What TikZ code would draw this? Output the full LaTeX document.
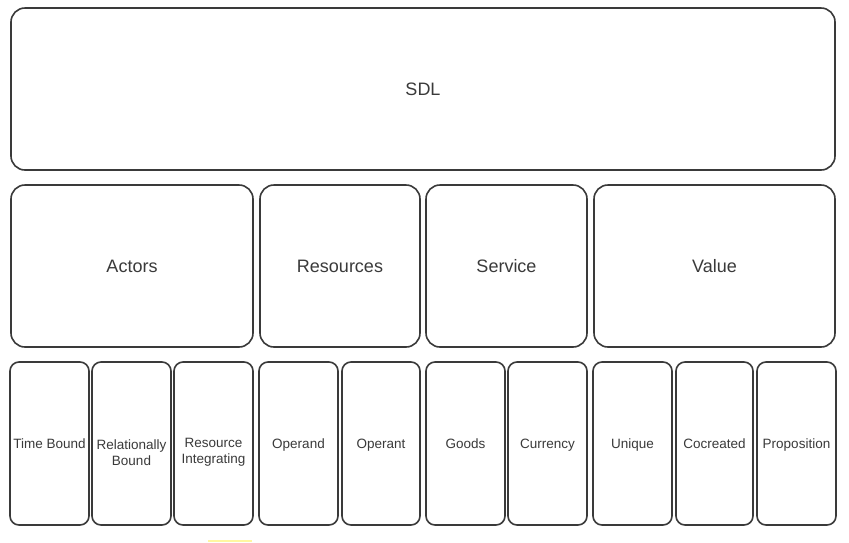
\documentclass[tikz,border=0pt]{standalone}
\usepackage{fontspec}
\setmainfont{Liberation Sans}
\definecolor{edge}{HTML}{3A3A3A}
\definecolor{ink}{HTML}{3A3A3A}
\definecolor{hilite}{HTML}{FFF7A0}
\begin{document}
\begin{tikzpicture}[x=1pt,y=-1pt,
  box/.style={draw=edge, line width=1.6pt, rounded corners=14pt, fill=white,
    inner sep=0pt, text=ink, text height=13pt, text depth=0pt,
    font=\fontsize{18}{21}\selectfont},
  leaf/.style={draw=edge, line width=1.6pt, rounded corners=9pt, fill=white,
    inner sep=0pt, minimum width=79pt, minimum height=163pt, text=ink,
    text height=10pt, text depth=1pt, font=\fontsize{13.5}{16}\selectfont},
  leaftext/.style={inner sep=0pt, align=center, text=ink,
    font=\fontsize{13.5}{16}\selectfont}]
\useasboundingbox (0,0) rectangle (849,542);
\fill[white] (0,0) rectangle (849,542);

% top level
\node[box, minimum width=824pt, minimum height=162pt] (sdl) at (423,89) {SDL};

% second level
\node[box, minimum width=242pt, minimum height=162pt] (actors) at (132,266) {Actors};
\node[box, minimum width=160pt, minimum height=162pt] (resources) at (340,266) {Resources};
\node[box, minimum width=161pt, minimum height=162pt] (service) at (506.5,266) {Service};
\node[box, minimum width=241pt, minimum height=162pt] (value) at (714.5,266) {Value};

% third level
\node[leaf] (timeb) at (49.5,443.5) {Time Bound};
\node[leaf] (relb) at (131.5,443.5) {};
\node[leaf] (resint) at (213.5,443.5) {};
\node[leaf] (operand) at (298.5,443.5) {Operand};
\node[leaf, minimum width=78pt] (operant) at (381,443.5) {Operant};
\node[leaf] (goods) at (465.5,443.5) {Goods};
\node[leaf] (currency) at (547.5,443.5) {Currency};
\node[leaf] (unique) at (632.5,443.5) {Unique};
\node[leaf, minimum width=77pt] (cocreated) at (714.5,443.5) {Cocreated};
\node[leaf] (proposition) at (796.5,443.5) {Proposition};

\node[leaftext] (relbtext) at ([yshift=-9pt]relb.center) {Relationally\\Bound};
\node[leaftext] (resinttext) at ([yshift=-9pt]resint.center) {Resource\\Integrating};

% faint highlight strip below the bottom row
\fill[hilite] (208,539.5) rectangle (252,542);
\end{tikzpicture}
\end{document}
